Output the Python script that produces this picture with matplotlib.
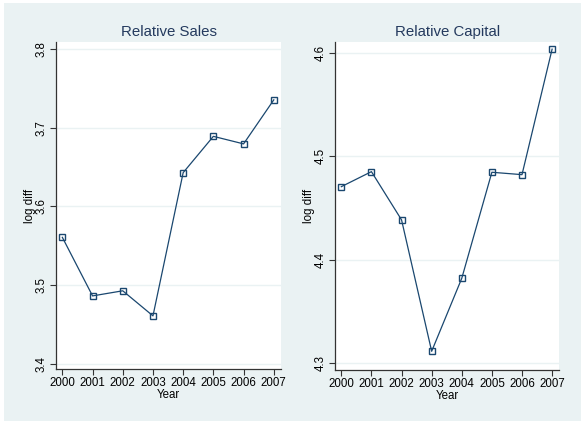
import matplotlib.pyplot as plt
from matplotlib.patches import Rectangle

plt.rcParams['font.family'] = ['Liberation Sans', 'DejaVu Sans']

# data
years = [2000, 2001, 2002, 2003, 2004, 2005, 2006, 2007]
sales = [3.5605, 3.486, 3.4925, 3.4606, 3.6428, 3.689, 3.6794, 3.7354]
capital = [4.4706, 4.4851, 4.4385, 4.3116, 4.3821, 4.4845, 4.4822, 4.6034]

sales_ticks = [3.4, 3.5, 3.6, 3.7, 3.8]
capital_ticks = [4.3, 4.4, 4.5, 4.6]

navy = '#1A476F'
bg = '#EAF2F3'

fig = plt.figure(figsize=(5.81, 4.21), dpi=100, facecolor='white')
fig.patches.append(Rectangle((4 / 581, 0), 1, 1 - 3 / 421,
                             transform=fig.transFigure, facecolor=bg,
                             edgecolor='none', zorder=-10))

ax1 = fig.add_axes([0.0964, 0.1235, 0.3873, 0.7767])
ax2 = fig.add_axes([0.5766, 0.1211, 0.3861, 0.7791])


def draw(ax, y, ticks, ylim, title):
    ax.set_facecolor('white')
    ax.plot(years, y, color=navy, lw=0.9, marker='s', ms=3.8,
            mfc='none', mec=navy, mew=1.0)
    ax.set_xlim(1999.79, 2007.24)
    ax.set_ylim(*ylim)
    ax.set_xticks(years)
    ax.set_xticklabels([str(v) for v in years], fontsize=8.3)
    ax.set_yticks(ticks)
    ax.set_yticklabels([str(v) for v in ticks], fontsize=8.3,
                       rotation=90, va='center')
    ax.grid(axis='y', color=bg, lw=1)
    ax.set_axisbelow(True)
    for s in ['top', 'right']:
        ax.spines[s].set_visible(False)
    for s in ['left', 'bottom']:
        ax.spines[s].set_color('#333333')
        ax.spines[s].set_linewidth(0.9)
    ax.tick_params(length=4, width=0.8, color='#333333', pad=2)
    ax.set_xlabel('Year', fontsize=8.3, labelpad=0)
    ax.set_ylabel('log diff', fontsize=8.3, labelpad=0)
    ax.set_title(title, fontsize=10.8, color='#243A5E', pad=4)


draw(ax1, sales, sales_ticks, (3.393, 3.809), 'Relative Sales')
draw(ax2, capital, capital_ticks, (4.2935, 4.6103), 'Relative Capital')

fig.savefig('out.png', dpi=100)
